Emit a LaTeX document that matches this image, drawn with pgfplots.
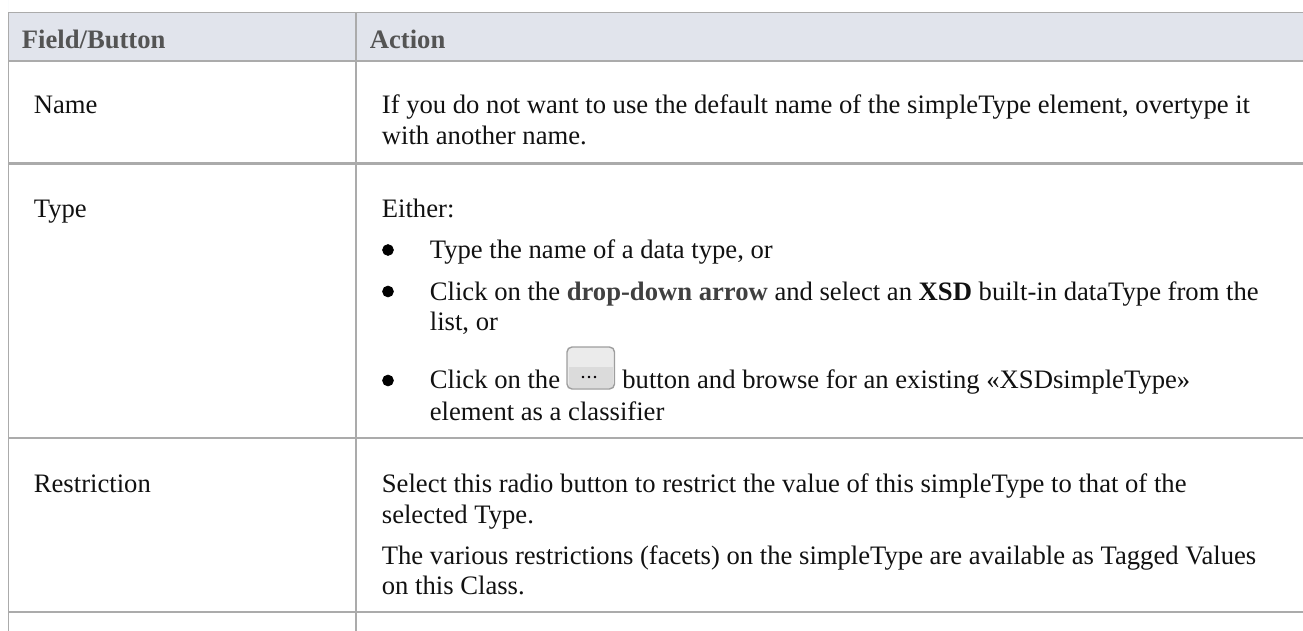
\documentclass[border=0pt]{standalone}
\usepackage{pgfplots}
\pgfplotsset{compat=1.18}
\usepackage{fontspec}
\setmainfont{Liberation Serif}
\definecolor{hdr}{HTML}{E1E4EC}
\definecolor{rule}{HTML}{ABABAB}
\definecolor{hdrtxt}{HTML}{545454}
\definecolor{txt}{HTML}{111111}
\definecolor{ddtxt}{HTML}{404040}
\newcommand\fs{\fontsize{13.32}{15}\selectfont}
\newcommand\tx[3][txt]{\node[anchor=base west, inner sep=0pt, font=\fs, text=#1] at (axis cs:#2) {#3};}
\begin{document}
\begin{tikzpicture}
\useasboundingbox (0,0) rectangle (651.5pt,315.5pt);
\begin{axis}[
  scale only axis, width=651.5pt, height=315.5pt,
  xmin=0, xmax=1303, ymin=0, ymax=631, y dir=reverse,
  axis lines=none, clip=true,
]
\addplot[draw=none, fill=hdr, forget plot] coordinates {(8.5,12.5) (1303,12.5) (1303,61) (8.5,61)} \closedcycle;
\addplot[rule, line width=0.6pt] coordinates {(8.5,12.5) (1303,12.5)};
\addplot[rule, line width=1pt] coordinates {(8.5,61) (1303,61)};
\addplot[rule, line width=1.1pt] coordinates {(8.5,163.5) (1303,163.5)};
\addplot[rule, line width=1.1pt] coordinates {(8.5,438) (1303,438)};
\addplot[rule, line width=1.1pt] coordinates {(8.5,612) (1303,612)};
\addplot[rule, line width=0.8pt] coordinates {(8.5,12.5) (8.5,631)};
\addplot[rule, line width=0.8pt] coordinates {(356,12.5) (356,631)};
\addplot[only marks, mark=*, mark size=2.7pt, black, mark options={draw=black, fill=black}] coordinates {(388,250) (388,291.5) (388,380.5)};
\tx[hdrtxt]{21.5,48.5}{\bfseries Field/Button}
\tx[hdrtxt]{369.5,48.5}{\bfseries Action}
\tx{33.5,114}{Name}
\tx{33.5,218}{Type}
\tx{33.5,492}{Restriction}
\tx{381.5,114}{If you do not want to use the default name of the simpleType element, overtype it}
\tx{381.5,145}{with another name.}
\tx{381.5,218}{Either:}
\tx{429.5,258}{Type the name of a data type, or}
\tx{429.5,300}{Click on the {\bfseries\color{ddtxt}drop-down arrow} and select an {\bfseries XSD} built-in dataType from the}
\tx{429.5,330}{list, or}
\tx{429.5,388}{Click on the}
\tx{622,388}{button and browse for an existing «XSDsimpleType»}
\tx{429.5,420}{element as a classifier}
\tx{381.5,492}{Select this radio button to restrict the value of this simpleType to that of the}
\tx{381.5,523}{selected Type.}
\tx{381.5,564}{The various restrictions (facets) on the simpleType are available as Tagged Values}
\tx{381.5,594}{on this Class.}
% the small "..." button
\fill[rounded corners=2pt, fill=white!92!black] (axis cs:567,347) rectangle (axis cs:614.5,389);
\fill[fill=white!86!black] (axis cs:568.5,367) rectangle (axis cs:613,387.5);
\draw[rounded corners=2.5pt, draw=white!62!black, line width=0.7pt] (axis cs:567,347) rectangle (axis cs:614.5,389);
\addplot[only marks, mark=*, mark size=0.4pt, mark options={draw=none, fill=violet!60!gray}] coordinates {(583,377) (589,377) (595,377)};
\end{axis}
\end{tikzpicture}
\end{document}
